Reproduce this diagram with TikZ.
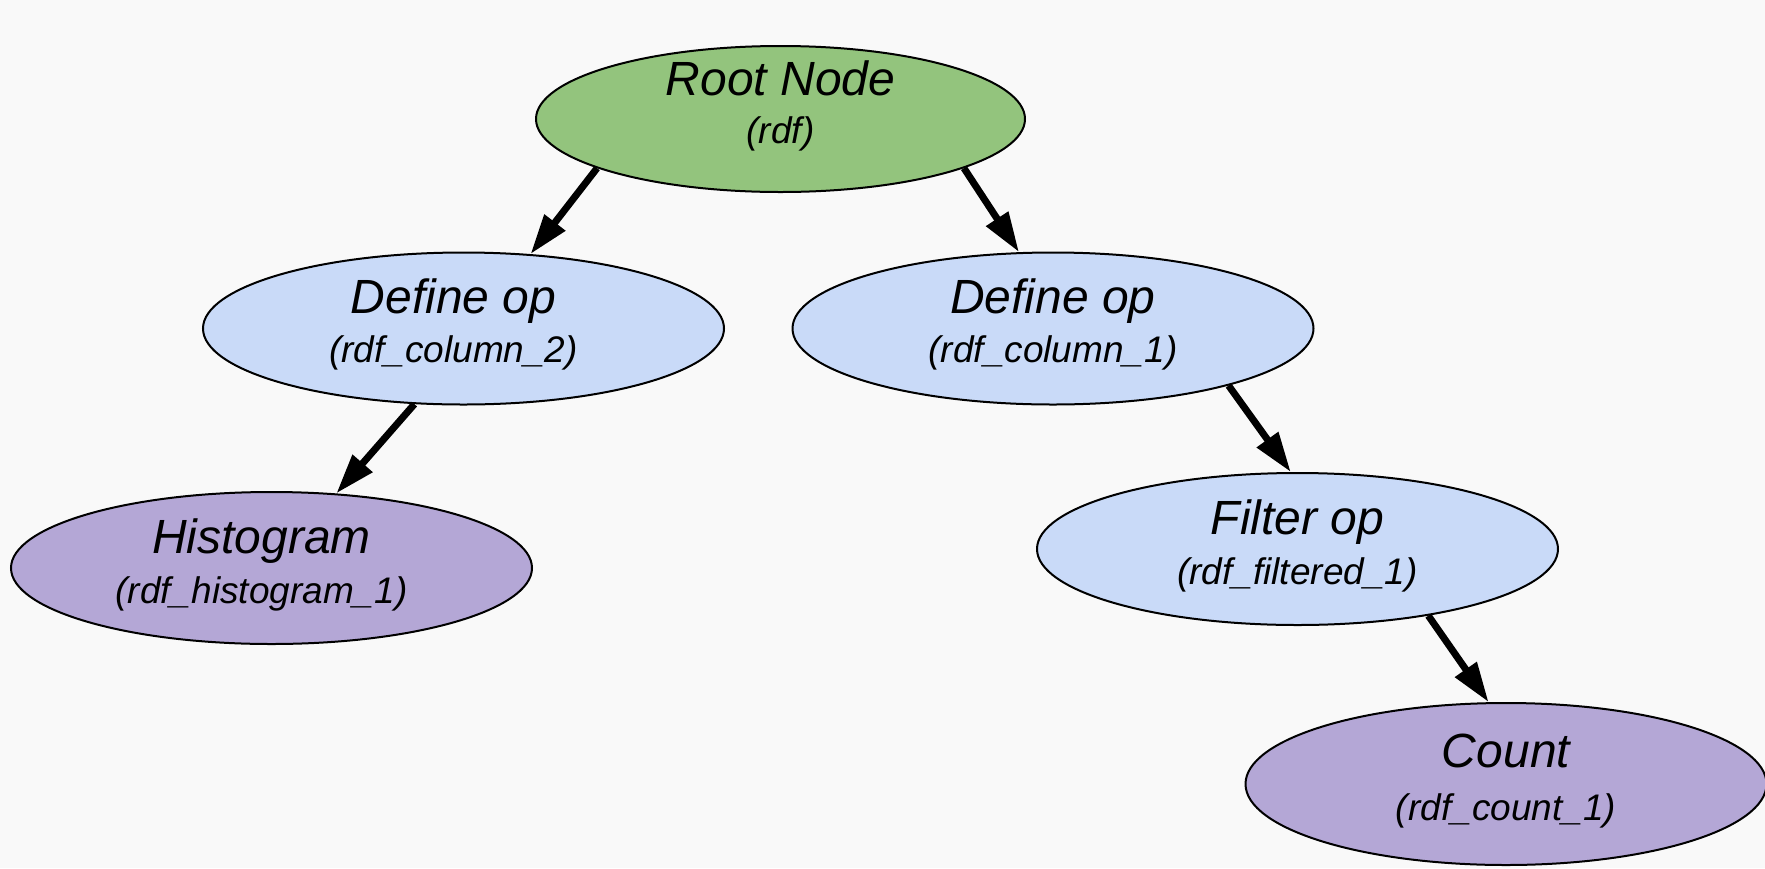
\documentclass[tikz,border=0pt]{standalone}
\usepackage{fontspec}
\setmainfont{Liberation Sans}
\usetikzlibrary{shapes.geometric,arrows.meta}
\definecolor{bgc}{HTML}{F9F9F9}
\definecolor{rootgreen}{HTML}{93C47D}
\definecolor{opblue}{HTML}{C9DAF8}
\definecolor{actpurple}{HTML}{B4A7D6}
\tikzset{
  nd/.style={ellipse, draw=black, line width=2pt, inner sep=0pt,
    minimum width=521pt, minimum height=152pt},
  rootnd/.style={nd, fill=rootgreen, minimum width=489pt, minimum height=146pt},
  opnd/.style={nd, fill=opblue},
  actnd/.style={nd, fill=actpurple},
  ttl/.style={anchor=base, inner sep=0pt, font=\itshape\fontsize{48}{52}\selectfont},
  sub/.style={anchor=base, inner sep=0pt, font=\itshape\fontsize{37}{44}\selectfont},
  conn/.style={line width=7pt, -{Triangle[length=40pt,width=25pt]}}
}
\begin{document}
\begin{tikzpicture}[x=1pt,y=-1pt]
\fill[bgc] (0,0) rectangle (1765,868);
\useasboundingbox (0,0) rectangle (1765,868);
\node[rootnd] (root) at (780.5,119) {};
\node[opnd] (defL) at (463.5,328.5) {};
\node[opnd] (defR) at (1053,328.5) {};
\node[actnd] (hist) at (271.5,568) {};
\node[opnd] (filt) at (1297.5,549) {};
\node[actnd, minimum height=162pt] (cnt) at (1506,784) {};
\node[ttl] (rootT) at ([yshift=24pt]root.center) {Root Node};
\node[sub] (rootS) at ([yshift=-24pt]root.center) {(rdf)};
\node[ttl] (defLT) at ([xshift=-10pt,yshift=15pt]defL.center) {Define op};
\node[sub] (defLS) at ([xshift=-10pt,yshift=-34pt]defL.center) {(rdf\_column\_2)};
\node[ttl] (defRT) at ([yshift=15pt]defR.center) {Define op};
\node[sub] (defRS) at ([yshift=-34pt]defR.center) {(rdf\_column\_1)};
\node[ttl] (histT) at ([xshift=-10pt,yshift=15pt]hist.center) {Histogram};
\node[sub] (histS) at ([xshift=-10pt,yshift=-35pt]hist.center) {(rdf\_histogram\_1)};
\node[ttl] (filtT) at ([yshift=15pt]filt.center) {Filter op};
\node[sub] (filtS) at ([yshift=-35pt]filt.center) {(rdf\_filtered\_1)};
\node[ttl] (cntT) at ([yshift=17pt]cnt.center) {Count};
\node[sub] (cntS) at ([yshift=-36pt]cnt.center) {(rdf\_count\_1)};
\draw[conn] (root.195.7) -- (defL.48.9);
\draw[conn] (root.-15.7) -- (defR.114.6);
\draw[conn] (defL.237.6) -- (hist.49.1);
\draw[conn] (defR.-18.8) -- (filt.95.6);
\draw[conn] (filt.-27.9) -- (cnt.102);
\end{tikzpicture}
\end{document}
